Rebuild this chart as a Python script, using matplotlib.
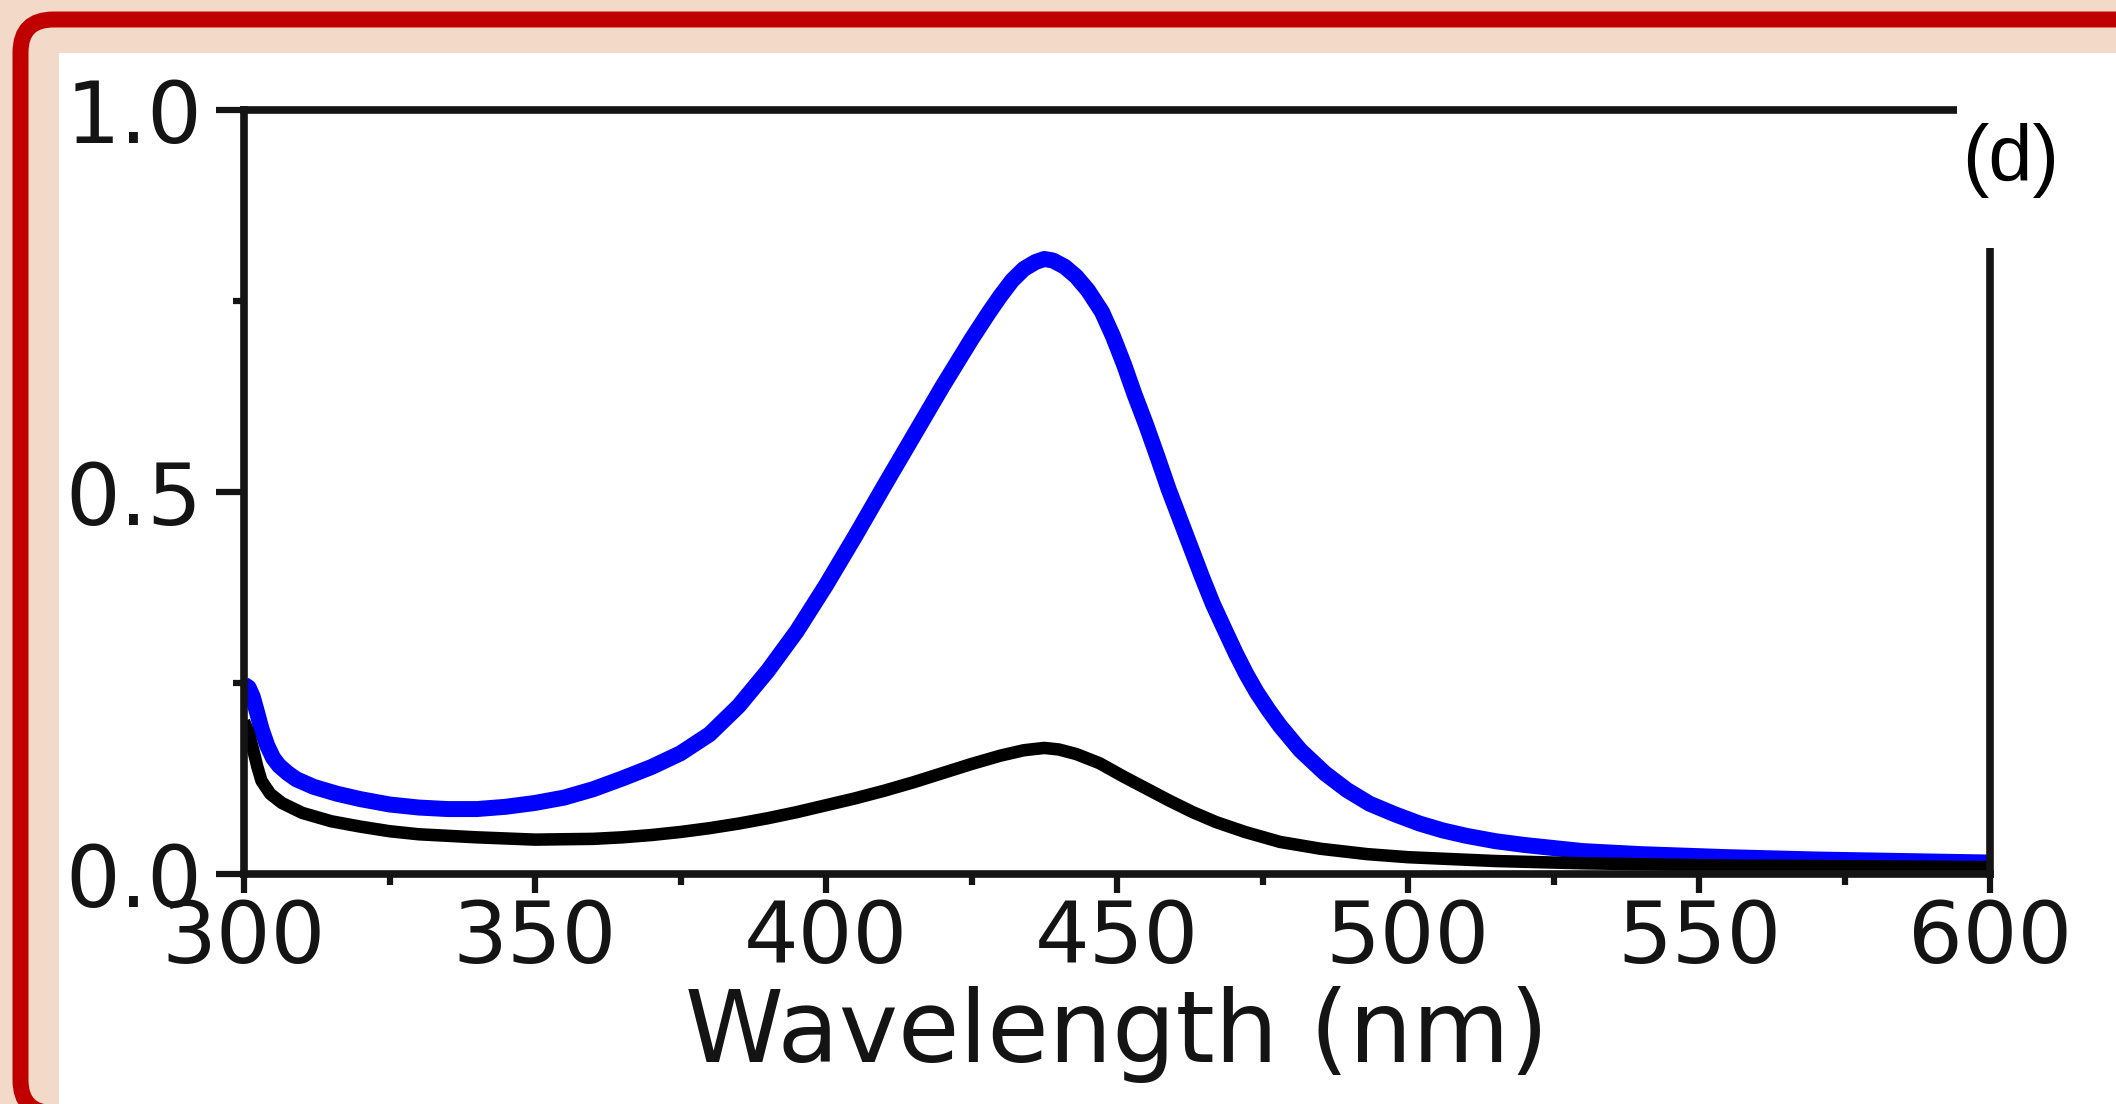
import matplotlib
matplotlib.use('Agg')
import matplotlib.pyplot as plt
from matplotlib.patches import Rectangle, FancyBboxPatch
from matplotlib.transforms import IdentityTransform

# absorbance spectra
wavelength_blue = [300, 300.8, 301.5, 302.3, 303, 304, 305, 306, 307.5, 309, 312, 316, 320,
                   325, 330, 335, 340, 345, 350, 355, 360, 365, 370, 375, 380, 385, 390,
                   395, 400, 405, 410, 415, 420, 425, 428, 430, 432, 434, 436, 437.5, 439,
                   441, 443, 445, 447.4, 449.3, 451.2, 453, 455, 457, 458.9, 460.8, 462.7,
                   464.6, 466.5, 468.5, 470.4, 472.2, 474, 476, 478, 481.5, 485.7, 489.5,
                   493.4, 497.8, 502, 506, 510, 515, 520, 530, 540, 555, 570, 585, 600]
absorb_blue = [0.248, 0.244, 0.232, 0.210, 0.190, 0.168, 0.152, 0.142, 0.132, 0.124, 0.114,
               0.105, 0.098, 0.091, 0.087, 0.085, 0.085, 0.088, 0.093, 0.100, 0.111, 0.125,
               0.140, 0.158, 0.183, 0.220, 0.266, 0.318, 0.378, 0.442, 0.508, 0.573, 0.638,
               0.700, 0.735, 0.757, 0.777, 0.792, 0.801, 0.805, 0.803, 0.795, 0.782, 0.764,
               0.736, 0.704, 0.667, 0.628, 0.588, 0.545, 0.503, 0.465, 0.427, 0.389, 0.353,
               0.320, 0.289, 0.262, 0.238, 0.215, 0.194, 0.162, 0.132, 0.110, 0.092, 0.078,
               0.066, 0.057, 0.050, 0.043, 0.038, 0.030, 0.026, 0.022, 0.019, 0.017, 0.015]

wavelength_black = [300, 300.8, 301.5, 302.3, 303, 304.5, 306.5, 310, 315, 320, 325, 330,
                    340, 350, 360, 365, 370, 375, 380, 385, 390, 395, 400, 405, 410, 415,
                    420, 425, 430, 434, 437.5, 440, 443, 447, 451, 455, 459, 463, 467, 472,
                    478, 485, 493, 500, 515, 530, 555, 580, 600]
absorb_black = [0.200, 0.185, 0.165, 0.140, 0.122, 0.105, 0.093, 0.080, 0.069, 0.062, 0.056,
                0.052, 0.048, 0.045, 0.046, 0.048, 0.051, 0.055, 0.060, 0.066, 0.073, 0.081,
                0.090, 0.099, 0.109, 0.120, 0.132, 0.144, 0.155, 0.162, 0.165, 0.163, 0.157,
                0.145, 0.128, 0.112, 0.096, 0.081, 0.068, 0.055, 0.042, 0.033, 0.026, 0.022,
                0.017, 0.014, 0.011, 0.010, 0.009]

x_ticks = [300, 350, 400, 450, 500, 550, 600]
x_minor = [325, 375, 425, 475, 525, 575]
y_ticks = [0.0, 0.5, 1.0]
y_minor = [0.25, 0.75]
y_tick_labels = ['0.0', '0.5', '1.0']

BEIGE = '#f3d9c8'
RED = '#c00000'
INK = '#141414'

W, H = 2116, 1104
fig = plt.figure(figsize=(W / 100, H / 100), dpi=100, facecolor=BEIGE)
px = IdentityTransform()

# white panel behind the plot
fig.add_artist(Rectangle((59, 0), W - 59, H - 53, transform=px,
                         facecolor='white', edgecolor='none', zorder=-1))

ax = fig.add_axes([244 / W, 230 / H, (1990 - 244) / W, 764 / H])
ax.set_facecolor('white')
ax.plot(wavelength_blue, absorb_blue, color='#0000ff', lw=11.5,
        solid_joinstyle='round', solid_capstyle='butt')
ax.plot(wavelength_black, absorb_black, color='black', lw=9,
        solid_joinstyle='round', solid_capstyle='butt')

ax.set_xlim(300, 600)
ax.set_ylim(0, 1.0)
ax.set_xticks(x_ticks)
ax.set_xticks(x_minor, minor=True)
ax.set_yticks(y_ticks)
ax.set_yticks(y_minor, minor=True)
ax.set_yticklabels(y_tick_labels)

for s in ax.spines.values():
    s.set_linewidth(5.5)
    s.set_color(INK)

ax.tick_params(axis='x', which='major', direction='out', length=14, width=4.5,
               color=INK, pad=3, labelsize=62, labelcolor=INK)
ax.tick_params(axis='x', which='minor', direction='out', length=8, width=4.5, color=INK)
ax.tick_params(axis='y', which='major', direction='out', length=20, width=4.5,
               color=INK, pad=10, labelsize=62, labelcolor=INK)
ax.tick_params(axis='y', which='minor', direction='out', length=8, width=4.5, color=INK)
for lab in ax.get_xticklabels() + ax.get_yticklabels():
    lab.set_family('DejaVu Sans')

ax.set_xlabel('Wavelength (nm)', fontsize=72, color=INK, labelpad=4,
              family='DejaVu Sans')

# white box holding the panel letter, covering the top-right corner
fig.add_artist(Rectangle((1957, H - 248), 120, 145, transform=px,
                         facecolor='white', edgecolor='none', zorder=3))
fig.text(1962 / W, (H - 160) / H, '(d)', fontsize=57, family='Liberation Sans',
         color='black', ha='left', va='center', zorder=4)

# beige margin clips the y tick labels, then the red rounded frame
fig.add_artist(Rectangle((0, 0), 59, H, transform=px,
                         facecolor=BEIGE, edgecolor='none', zorder=5))
fig.add_artist(FancyBboxPatch((20.5, -9), W + 100, H - 19.5 + 9,
                              boxstyle='round,pad=0,rounding_size=33', transform=px,
                              fill=False, edgecolor=RED, lw=11.5, zorder=6))

fig.savefig('out.png', dpi=100, facecolor=BEIGE)
